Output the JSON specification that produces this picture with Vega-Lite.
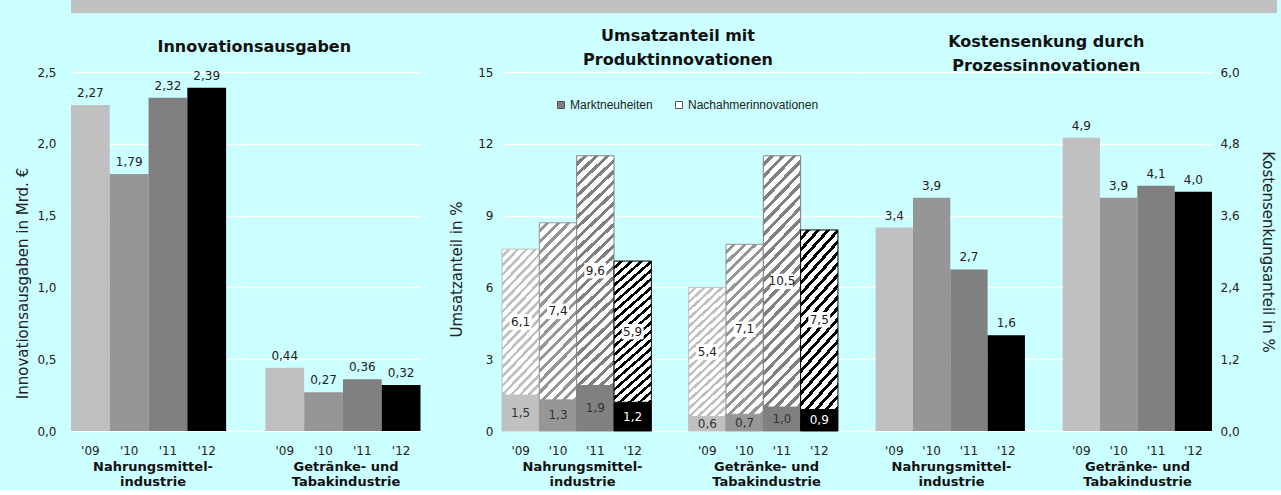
{
  "$schema": "https://vega.github.io/schema/vega-lite/v6.json",
  "background": "#ccffff",
  "padding": {"left": 15, "right": 4, "top": 0, "bottom": 2},
  "datasets": {
    "innov": [
      {"group": "N", "year": "'09", "value": 2.27},
      {"group": "N", "year": "'10", "value": 1.79},
      {"group": "N", "year": "'11", "value": 2.32},
      {"group": "N", "year": "'12", "value": 2.39},
      {"group": "G", "year": "'09", "value": 0.44},
      {"group": "G", "year": "'10", "value": 0.27},
      {"group": "G", "year": "'11", "value": 0.36},
      {"group": "G", "year": "'12", "value": 0.32}
    ],
    "umsatz": [
      {"group": "N", "year": "'09", "series": "Marktneuheiten", "value": 1.5},
      {"group": "N", "year": "'09", "series": "Nachahmerinnovationen", "value": 6.1},
      {"group": "N", "year": "'10", "series": "Marktneuheiten", "value": 1.3},
      {"group": "N", "year": "'10", "series": "Nachahmerinnovationen", "value": 7.4},
      {"group": "N", "year": "'11", "series": "Marktneuheiten", "value": 1.9},
      {"group": "N", "year": "'11", "series": "Nachahmerinnovationen", "value": 9.6},
      {"group": "N", "year": "'12", "series": "Marktneuheiten", "value": 1.2},
      {"group": "N", "year": "'12", "series": "Nachahmerinnovationen", "value": 5.9},
      {"group": "G", "year": "'09", "series": "Marktneuheiten", "value": 0.6},
      {"group": "G", "year": "'09", "series": "Nachahmerinnovationen", "value": 5.4},
      {"group": "G", "year": "'10", "series": "Marktneuheiten", "value": 0.7},
      {"group": "G", "year": "'10", "series": "Nachahmerinnovationen", "value": 7.1},
      {"group": "G", "year": "'11", "series": "Marktneuheiten", "value": 1.0},
      {"group": "G", "year": "'11", "series": "Nachahmerinnovationen", "value": 10.5},
      {"group": "G", "year": "'12", "series": "Marktneuheiten", "value": 0.9},
      {"group": "G", "year": "'12", "series": "Nachahmerinnovationen", "value": 7.5}
    ],
    "kosten": [
      {"group": "N", "year": "'09", "value": 3.4},
      {"group": "N", "year": "'10", "value": 3.9},
      {"group": "N", "year": "'11", "value": 2.7},
      {"group": "N", "year": "'12", "value": 1.6},
      {"group": "G", "year": "'09", "value": 4.9},
      {"group": "G", "year": "'10", "value": 3.9},
      {"group": "G", "year": "'11", "value": 4.1},
      {"group": "G", "year": "'12", "value": 4.0}
    ]
  },
  "spacing": 15,
  "resolve": {"legend": {"color": "independent"}},
  "vconcat": [
    {
      "width": 1206, "height": 13,
      "view": {"fill": "#c0c0c0", "stroke": null},
      "data": {"name": "innov"},
      "mark": "text",
      "encoding": {"text": {"value": ""}}
    },
    {
      "spacing": 0,
      "bounds": "flush",
      "resolve": {"legend": {"color": "independent"}},
      "hconcat": [
        {
          "width": 174.5, "height": 359,
          "title": {"text": "Innovationsausgaben", "dx": 96, "offset": 11},
          "data": {"name": "innov"},
          "transform": [{"filter": "datum.group === 'N'"}],
          "encoding": {
            "x": {"field": "year", "type": "nominal", "scale": {"domain": ["'09", "'10", "'11", "'12"], "paddingInner": 0, "paddingOuter": 0.25, "align": 0}, "axis": {"title": ["Nahrungsmittel-", "industrie"], "titleX": 81.5}},
            "y": {"field": "value", "type": "quantitative", "scale": {"domain": [0, 2.5], "nice": false}, "axis": {"values": [0, 0.5, 1, 1.5, 2, 2.5], "format": ".1f", "title": "Innovationsausgaben in Mrd. €", "labelPadding": 15, "titlePadding": 6, "titleY": 211}}
          },
          "layer": [
            {"mark": {"type": "bar"}, "encoding": {"fill": {"field": "year", "type": "nominal", "scale": {"domain": ["'09", "'10", "'11", "'12"], "range": ["#c0c0c0", "#969696", "#808080", "#000000"]}, "legend": null}}},
            {"mark": {"type": "text", "baseline": "alphabetic", "dy": -8, "fontSize": 12, "color": "#222222"}, "encoding": {"text": {"field": "value", "type": "quantitative", "format": ".2f"}}}
          ]
        },
        {
          "width": 174.5, "height": 359,
          "data": {"name": "innov"},
          "transform": [{"filter": "datum.group === 'G'"}],
          "encoding": {
            "x": {"field": "year", "type": "nominal", "scale": {"domain": ["'09", "'10", "'11", "'12"], "paddingInner": 0, "paddingOuter": 0.25, "align": 1}, "axis": {"title": ["Getränke- und", "Tabakindustrie"], "titleX": 99.5}},
            "y": {"field": "value", "type": "quantitative", "scale": {"domain": [0, 2.5], "nice": false}, "axis": {"values": [0, 0.5, 1, 1.5, 2, 2.5], "labels": false, "title": null}}
          },
          "layer": [
            {"mark": {"type": "bar"}, "encoding": {"fill": {"field": "year", "type": "nominal", "scale": {"domain": ["'09", "'10", "'11", "'12"], "range": ["#c0c0c0", "#969696", "#808080", "#000000"]}, "legend": null}}},
            {"mark": {"type": "text", "baseline": "alphabetic", "dy": -8, "fontSize": 12, "color": "#222222"}, "encoding": {"text": {"field": "value", "type": "quantitative", "format": ".2f"}}}
          ]
        },
        {
          "width": 81, "height": 359,
          "data": {"name": "innov"},
          "mark": "text",
          "encoding": {"text": {"value": ""}}
        },
        {
          "width": 168, "height": 359,
          "title": {"text": ["Umsatzanteil mit", "Produktinnovationen"], "dx": 92, "offset": -2, "lineHeight": 24},
          "data": {"name": "umsatz"},
          "transform": [
            {"filter": "datum.group === 'N'"},
            {"stack": "value", "groupby": ["year"], "sort": [{"field": "series", "order": "ascending"}], "as": ["v0", "v1"]},
            {"calculate": "(datum.v0 + datum.v1) / 2", "as": "mid"}
          ],
          "encoding": {
            "x": {"field": "year", "type": "nominal", "scale": {"domain": ["'09", "'10", "'11", "'12"], "paddingInner": 0, "paddingOuter": 0.25, "align": 0}, "axis": {"title": ["Nahrungsmittel-", "industrie"], "titleX": 80}}
          },
          "layer": [
            {
              "mark": {"type": "bar", "strokeWidth": 1},
              "encoding": {
                "y": {"field": "v1", "type": "quantitative", "scale": {"domain": [0, 15], "nice": false}, "axis": {"values": [0, 3, 6, 9, 12, 15], "format": "d", "title": "Umsatzanteil in %", "labelPadding": 9, "titlePadding": 13, "titleY": 197}},
                "y2": {"field": "v0"},
                "stroke": {"field": "year", "type": "nominal", "scale": {"domain": ["'09", "'10", "'11", "'12"], "range": ["#c0c0c0", "#969696", "#808080", "#000000"]}, "legend": null},
                "fill": {
                  "field": "year", "type": "nominal",
                  "scale": {"domain": ["'09", "'10", "'11", "'12"], "range": ["#c0c0c0", "#969696", "#808080", "#000000"]},
                  "legend": null,
                  "condition": [
                    {"test": "datum.series === 'Nachahmerinnovationen' && datum.year === \"'09\"", "value": {"gradient": "linear", "x1": 0, "y1": 0, "x2": 0.317, "y2": 1.183, "stops": [
                      {"offset": 0, "color": "#fff"}, {"offset": 0.03, "color": "#fff"}, {"offset": 0.03, "color": "#c0c0c0"}, {"offset": 0.05, "color": "#c0c0c0"},
                      {"offset": 0.05, "color": "#fff"}, {"offset": 0.08, "color": "#fff"}, {"offset": 0.08, "color": "#c0c0c0"}, {"offset": 0.1, "color": "#c0c0c0"},
                      {"offset": 0.1, "color": "#fff"}, {"offset": 0.13, "color": "#fff"}, {"offset": 0.13, "color": "#c0c0c0"}, {"offset": 0.15, "color": "#c0c0c0"},
                      {"offset": 0.15, "color": "#fff"}, {"offset": 0.18, "color": "#fff"}, {"offset": 0.18, "color": "#c0c0c0"}, {"offset": 0.2, "color": "#c0c0c0"},
                      {"offset": 0.2, "color": "#fff"}, {"offset": 0.23, "color": "#fff"}, {"offset": 0.23, "color": "#c0c0c0"}, {"offset": 0.25, "color": "#c0c0c0"},
                      {"offset": 0.25, "color": "#fff"}, {"offset": 0.28, "color": "#fff"}, {"offset": 0.28, "color": "#c0c0c0"}, {"offset": 0.3, "color": "#c0c0c0"},
                      {"offset": 0.3, "color": "#fff"}, {"offset": 0.33, "color": "#fff"}, {"offset": 0.33, "color": "#c0c0c0"}, {"offset": 0.35, "color": "#c0c0c0"},
                      {"offset": 0.35, "color": "#fff"}, {"offset": 0.38, "color": "#fff"}, {"offset": 0.38, "color": "#c0c0c0"}, {"offset": 0.4, "color": "#c0c0c0"},
                      {"offset": 0.4, "color": "#fff"}, {"offset": 0.43, "color": "#fff"}, {"offset": 0.43, "color": "#c0c0c0"}, {"offset": 0.45, "color": "#c0c0c0"},
                      {"offset": 0.45, "color": "#fff"}, {"offset": 0.48, "color": "#fff"}, {"offset": 0.48, "color": "#c0c0c0"}, {"offset": 0.5, "color": "#c0c0c0"},
                      {"offset": 0.5, "color": "#fff"}, {"offset": 0.53, "color": "#fff"}, {"offset": 0.53, "color": "#c0c0c0"}, {"offset": 0.55, "color": "#c0c0c0"},
                      {"offset": 0.55, "color": "#fff"}, {"offset": 0.58, "color": "#fff"}, {"offset": 0.58, "color": "#c0c0c0"}, {"offset": 0.6, "color": "#c0c0c0"},
                      {"offset": 0.6, "color": "#fff"}, {"offset": 0.63, "color": "#fff"}, {"offset": 0.63, "color": "#c0c0c0"}, {"offset": 0.65, "color": "#c0c0c0"},
                      {"offset": 0.65, "color": "#fff"}, {"offset": 0.68, "color": "#fff"}, {"offset": 0.68, "color": "#c0c0c0"}, {"offset": 0.7, "color": "#c0c0c0"},
                      {"offset": 0.7, "color": "#fff"}, {"offset": 0.73, "color": "#fff"}, {"offset": 0.73, "color": "#c0c0c0"}, {"offset": 0.75, "color": "#c0c0c0"},
                      {"offset": 0.75, "color": "#fff"}, {"offset": 0.78, "color": "#fff"}, {"offset": 0.78, "color": "#c0c0c0"}, {"offset": 0.8, "color": "#c0c0c0"},
                      {"offset": 0.8, "color": "#fff"}, {"offset": 0.83, "color": "#fff"}, {"offset": 0.83, "color": "#c0c0c0"}, {"offset": 0.85, "color": "#c0c0c0"},
                      {"offset": 0.85, "color": "#fff"}, {"offset": 0.88, "color": "#fff"}, {"offset": 0.88, "color": "#c0c0c0"}, {"offset": 0.9, "color": "#c0c0c0"},
                      {"offset": 0.9, "color": "#fff"}, {"offset": 0.93, "color": "#fff"}, {"offset": 0.93, "color": "#c0c0c0"}, {"offset": 0.95, "color": "#c0c0c0"},
                      {"offset": 0.95, "color": "#fff"}, {"offset": 0.98, "color": "#fff"}, {"offset": 0.98, "color": "#c0c0c0"}, {"offset": 1, "color": "#c0c0c0"}
                    ]}},
                    {"test": "datum.series === 'Nachahmerinnovationen' && datum.year === \"'10\"", "value": {"gradient": "linear", "x1": 0, "y1": 0, "x2": 0.248, "y2": 1.161, "stops": [
                      {"offset": 0, "color": "#fff"}, {"offset": 0.03, "color": "#fff"}, {"offset": 0.03, "color": "#969696"}, {"offset": 0.05, "color": "#969696"},
                      {"offset": 0.05, "color": "#fff"}, {"offset": 0.08, "color": "#fff"}, {"offset": 0.08, "color": "#969696"}, {"offset": 0.1, "color": "#969696"},
                      {"offset": 0.1, "color": "#fff"}, {"offset": 0.13, "color": "#fff"}, {"offset": 0.13, "color": "#969696"}, {"offset": 0.15, "color": "#969696"},
                      {"offset": 0.15, "color": "#fff"}, {"offset": 0.18, "color": "#fff"}, {"offset": 0.18, "color": "#969696"}, {"offset": 0.2, "color": "#969696"},
                      {"offset": 0.2, "color": "#fff"}, {"offset": 0.23, "color": "#fff"}, {"offset": 0.23, "color": "#969696"}, {"offset": 0.25, "color": "#969696"},
                      {"offset": 0.25, "color": "#fff"}, {"offset": 0.28, "color": "#fff"}, {"offset": 0.28, "color": "#969696"}, {"offset": 0.3, "color": "#969696"},
                      {"offset": 0.3, "color": "#fff"}, {"offset": 0.33, "color": "#fff"}, {"offset": 0.33, "color": "#969696"}, {"offset": 0.35, "color": "#969696"},
                      {"offset": 0.35, "color": "#fff"}, {"offset": 0.38, "color": "#fff"}, {"offset": 0.38, "color": "#969696"}, {"offset": 0.4, "color": "#969696"},
                      {"offset": 0.4, "color": "#fff"}, {"offset": 0.43, "color": "#fff"}, {"offset": 0.43, "color": "#969696"}, {"offset": 0.45, "color": "#969696"},
                      {"offset": 0.45, "color": "#fff"}, {"offset": 0.48, "color": "#fff"}, {"offset": 0.48, "color": "#969696"}, {"offset": 0.5, "color": "#969696"},
                      {"offset": 0.5, "color": "#fff"}, {"offset": 0.53, "color": "#fff"}, {"offset": 0.53, "color": "#969696"}, {"offset": 0.55, "color": "#969696"},
                      {"offset": 0.55, "color": "#fff"}, {"offset": 0.58, "color": "#fff"}, {"offset": 0.58, "color": "#969696"}, {"offset": 0.6, "color": "#969696"},
                      {"offset": 0.6, "color": "#fff"}, {"offset": 0.63, "color": "#fff"}, {"offset": 0.63, "color": "#969696"}, {"offset": 0.65, "color": "#969696"},
                      {"offset": 0.65, "color": "#fff"}, {"offset": 0.68, "color": "#fff"}, {"offset": 0.68, "color": "#969696"}, {"offset": 0.7, "color": "#969696"},
                      {"offset": 0.7, "color": "#fff"}, {"offset": 0.73, "color": "#fff"}, {"offset": 0.73, "color": "#969696"}, {"offset": 0.75, "color": "#969696"},
                      {"offset": 0.75, "color": "#fff"}, {"offset": 0.78, "color": "#fff"}, {"offset": 0.78, "color": "#969696"}, {"offset": 0.8, "color": "#969696"},
                      {"offset": 0.8, "color": "#fff"}, {"offset": 0.83, "color": "#fff"}, {"offset": 0.83, "color": "#969696"}, {"offset": 0.85, "color": "#969696"},
                      {"offset": 0.85, "color": "#fff"}, {"offset": 0.88, "color": "#fff"}, {"offset": 0.88, "color": "#969696"}, {"offset": 0.9, "color": "#969696"},
                      {"offset": 0.9, "color": "#fff"}, {"offset": 0.93, "color": "#fff"}, {"offset": 0.93, "color": "#969696"}, {"offset": 0.95, "color": "#969696"},
                      {"offset": 0.95, "color": "#fff"}, {"offset": 0.98, "color": "#fff"}, {"offset": 0.98, "color": "#969696"}, {"offset": 1, "color": "#969696"}
                    ]}},
                    {"test": "datum.series === 'Nachahmerinnovationen' && datum.year === \"'11\"", "value": {"gradient": "linear", "x1": 0, "y1": 0, "x2": 0.174, "y2": 1.127, "stops": [
                      {"offset": 0, "color": "#fff"}, {"offset": 0.024, "color": "#fff"}, {"offset": 0.024, "color": "#808080"}, {"offset": 0.04, "color": "#808080"},
                      {"offset": 0.04, "color": "#fff"}, {"offset": 0.064, "color": "#fff"}, {"offset": 0.064, "color": "#808080"}, {"offset": 0.08, "color": "#808080"},
                      {"offset": 0.08, "color": "#fff"}, {"offset": 0.104, "color": "#fff"}, {"offset": 0.104, "color": "#808080"}, {"offset": 0.12, "color": "#808080"},
                      {"offset": 0.12, "color": "#fff"}, {"offset": 0.144, "color": "#fff"}, {"offset": 0.144, "color": "#808080"}, {"offset": 0.16, "color": "#808080"},
                      {"offset": 0.16, "color": "#fff"}, {"offset": 0.184, "color": "#fff"}, {"offset": 0.184, "color": "#808080"}, {"offset": 0.2, "color": "#808080"},
                      {"offset": 0.2, "color": "#fff"}, {"offset": 0.224, "color": "#fff"}, {"offset": 0.224, "color": "#808080"}, {"offset": 0.24, "color": "#808080"},
                      {"offset": 0.24, "color": "#fff"}, {"offset": 0.264, "color": "#fff"}, {"offset": 0.264, "color": "#808080"}, {"offset": 0.28, "color": "#808080"},
                      {"offset": 0.28, "color": "#fff"}, {"offset": 0.304, "color": "#fff"}, {"offset": 0.304, "color": "#808080"}, {"offset": 0.32, "color": "#808080"},
                      {"offset": 0.32, "color": "#fff"}, {"offset": 0.344, "color": "#fff"}, {"offset": 0.344, "color": "#808080"}, {"offset": 0.36, "color": "#808080"},
                      {"offset": 0.36, "color": "#fff"}, {"offset": 0.384, "color": "#fff"}, {"offset": 0.384, "color": "#808080"}, {"offset": 0.4, "color": "#808080"},
                      {"offset": 0.4, "color": "#fff"}, {"offset": 0.424, "color": "#fff"}, {"offset": 0.424, "color": "#808080"}, {"offset": 0.44, "color": "#808080"},
                      {"offset": 0.44, "color": "#fff"}, {"offset": 0.464, "color": "#fff"}, {"offset": 0.464, "color": "#808080"}, {"offset": 0.48, "color": "#808080"},
                      {"offset": 0.48, "color": "#fff"}, {"offset": 0.504, "color": "#fff"}, {"offset": 0.504, "color": "#808080"}, {"offset": 0.52, "color": "#808080"},
                      {"offset": 0.52, "color": "#fff"}, {"offset": 0.544, "color": "#fff"}, {"offset": 0.544, "color": "#808080"}, {"offset": 0.56, "color": "#808080"},
                      {"offset": 0.56, "color": "#fff"}, {"offset": 0.584, "color": "#fff"}, {"offset": 0.584, "color": "#808080"}, {"offset": 0.6, "color": "#808080"},
                      {"offset": 0.6, "color": "#fff"}, {"offset": 0.624, "color": "#fff"}, {"offset": 0.624, "color": "#808080"}, {"offset": 0.64, "color": "#808080"},
                      {"offset": 0.64, "color": "#fff"}, {"offset": 0.664, "color": "#fff"}, {"offset": 0.664, "color": "#808080"}, {"offset": 0.68, "color": "#808080"},
                      {"offset": 0.68, "color": "#fff"}, {"offset": 0.704, "color": "#fff"}, {"offset": 0.704, "color": "#808080"}, {"offset": 0.72, "color": "#808080"},
                      {"offset": 0.72, "color": "#fff"}, {"offset": 0.744, "color": "#fff"}, {"offset": 0.744, "color": "#808080"}, {"offset": 0.76, "color": "#808080"},
                      {"offset": 0.76, "color": "#fff"}, {"offset": 0.784, "color": "#fff"}, {"offset": 0.784, "color": "#808080"}, {"offset": 0.8, "color": "#808080"},
                      {"offset": 0.8, "color": "#fff"}, {"offset": 0.824, "color": "#fff"}, {"offset": 0.824, "color": "#808080"}, {"offset": 0.84, "color": "#808080"},
                      {"offset": 0.84, "color": "#fff"}, {"offset": 0.864, "color": "#fff"}, {"offset": 0.864, "color": "#808080"}, {"offset": 0.88, "color": "#808080"},
                      {"offset": 0.88, "color": "#fff"}, {"offset": 0.904, "color": "#fff"}, {"offset": 0.904, "color": "#808080"}, {"offset": 0.92, "color": "#808080"},
                      {"offset": 0.92, "color": "#fff"}, {"offset": 0.944, "color": "#fff"}, {"offset": 0.944, "color": "#808080"}, {"offset": 0.96, "color": "#808080"},
                      {"offset": 0.96, "color": "#fff"}, {"offset": 0.984, "color": "#fff"}, {"offset": 0.984, "color": "#808080"}, {"offset": 1, "color": "#808080"}
                    ]}},
                    {"test": "datum.series === 'Nachahmerinnovationen' && datum.year === \"'12\"", "value": {"gradient": "linear", "x1": 0, "y1": 0, "x2": 0.27, "y2": 1.169, "stops": [
                      {"offset": 0, "color": "#fff"}, {"offset": 0.03, "color": "#fff"}, {"offset": 0.03, "color": "#000"}, {"offset": 0.05, "color": "#000"},
                      {"offset": 0.05, "color": "#fff"}, {"offset": 0.08, "color": "#fff"}, {"offset": 0.08, "color": "#000"}, {"offset": 0.1, "color": "#000"},
                      {"offset": 0.1, "color": "#fff"}, {"offset": 0.13, "color": "#fff"}, {"offset": 0.13, "color": "#000"}, {"offset": 0.15, "color": "#000"},
                      {"offset": 0.15, "color": "#fff"}, {"offset": 0.18, "color": "#fff"}, {"offset": 0.18, "color": "#000"}, {"offset": 0.2, "color": "#000"},
                      {"offset": 0.2, "color": "#fff"}, {"offset": 0.23, "color": "#fff"}, {"offset": 0.23, "color": "#000"}, {"offset": 0.25, "color": "#000"},
                      {"offset": 0.25, "color": "#fff"}, {"offset": 0.28, "color": "#fff"}, {"offset": 0.28, "color": "#000"}, {"offset": 0.3, "color": "#000"},
                      {"offset": 0.3, "color": "#fff"}, {"offset": 0.33, "color": "#fff"}, {"offset": 0.33, "color": "#000"}, {"offset": 0.35, "color": "#000"},
                      {"offset": 0.35, "color": "#fff"}, {"offset": 0.38, "color": "#fff"}, {"offset": 0.38, "color": "#000"}, {"offset": 0.4, "color": "#000"},
                      {"offset": 0.4, "color": "#fff"}, {"offset": 0.43, "color": "#fff"}, {"offset": 0.43, "color": "#000"}, {"offset": 0.45, "color": "#000"},
                      {"offset": 0.45, "color": "#fff"}, {"offset": 0.48, "color": "#fff"}, {"offset": 0.48, "color": "#000"}, {"offset": 0.5, "color": "#000"},
                      {"offset": 0.5, "color": "#fff"}, {"offset": 0.53, "color": "#fff"}, {"offset": 0.53, "color": "#000"}, {"offset": 0.55, "color": "#000"},
                      {"offset": 0.55, "color": "#fff"}, {"offset": 0.58, "color": "#fff"}, {"offset": 0.58, "color": "#000"}, {"offset": 0.6, "color": "#000"},
                      {"offset": 0.6, "color": "#fff"}, {"offset": 0.63, "color": "#fff"}, {"offset": 0.63, "color": "#000"}, {"offset": 0.65, "color": "#000"},
                      {"offset": 0.65, "color": "#fff"}, {"offset": 0.68, "color": "#fff"}, {"offset": 0.68, "color": "#000"}, {"offset": 0.7, "color": "#000"},
                      {"offset": 0.7, "color": "#fff"}, {"offset": 0.73, "color": "#fff"}, {"offset": 0.73, "color": "#000"}, {"offset": 0.75, "color": "#000"},
                      {"offset": 0.75, "color": "#fff"}, {"offset": 0.78, "color": "#fff"}, {"offset": 0.78, "color": "#000"}, {"offset": 0.8, "color": "#000"},
                      {"offset": 0.8, "color": "#fff"}, {"offset": 0.83, "color": "#fff"}, {"offset": 0.83, "color": "#000"}, {"offset": 0.85, "color": "#000"},
                      {"offset": 0.85, "color": "#fff"}, {"offset": 0.88, "color": "#fff"}, {"offset": 0.88, "color": "#000"}, {"offset": 0.9, "color": "#000"},
                      {"offset": 0.9, "color": "#fff"}, {"offset": 0.93, "color": "#fff"}, {"offset": 0.93, "color": "#000"}, {"offset": 0.95, "color": "#000"},
                      {"offset": 0.95, "color": "#fff"}, {"offset": 0.98, "color": "#fff"}, {"offset": 0.98, "color": "#000"}, {"offset": 1, "color": "#000"}
                    ]}}
                  ]
                }
              }
            },
            {
              "mark": {"type": "point", "filled": true, "opacity": 0},
              "encoding": {
                "y": {"field": "v1", "type": "quantitative"},
                "color": {"field": "series", "type": "nominal", "scale": {"domain": ["Marktneuheiten", "Nachahmerinnovationen"], "range": ["#808080", "#ffffff"]},
                  "legend": {"orient": "none", "legendX": 53, "legendY": 27, "direction": "horizontal", "title": null, "symbolType": "square", "symbolSize": 49, "labelFont": "Liberation Sans", "labelFontSize": 12, "labelColor": "#222222", "labelOffset": 3, "columnPadding": 20,
                    "encode": {"symbols": {"update": {"stroke": {"value": "#555555"}, "strokeWidth": {"value": 1}, "opacity": {"value": 1}}}}}}
              }
            },
            {
              "transform": [{"filter": "datum.series === 'Nachahmerinnovationen'"}],
              "mark": {"type": "point", "shape": "M-1,-0.7L1,-0.7L1,0.7L-1,0.7Z", "filled": true, "color": "#ffffff", "opacity": 1, "size": 484, "strokeWidth": 0},
              "encoding": {"y": {"field": "mid", "type": "quantitative"}}
            },
            {
              "transform": [{"filter": "datum.series === 'Nachahmerinnovationen'"}],
              "mark": {"type": "text", "fontSize": 12, "color": "#222222"},
              "encoding": {"y": {"field": "mid", "type": "quantitative"}, "text": {"field": "value", "type": "quantitative", "format": ".1f"}}
            },
            {
              "transform": [{"filter": "datum.series === 'Marktneuheiten'"}],
              "mark": {"type": "text", "fontSize": 12},
              "encoding": {
                "y": {"field": "mid", "type": "quantitative"},
                "text": {"field": "value", "type": "quantitative", "format": ".1f"},
                "color": {"condition": {"test": "datum.year === \"'12\"", "value": "#ffffff"}, "value": "#333333"}
              }
            }
          ]
        },
        {
          "width": 186.6, "height": 359,
          "data": {"name": "umsatz"},
          "transform": [
            {"filter": "datum.group === 'G'"},
            {"stack": "value", "groupby": ["year"], "sort": [{"field": "series", "order": "ascending"}], "as": ["v0", "v1"]},
            {"calculate": "(datum.v0 + datum.v1) / 2", "as": "mid"}
          ],
          "encoding": {
            "x": {"field": "year", "type": "nominal", "scale": {"domain": ["'09", "'10", "'11", "'12"], "paddingInner": 0, "paddingOuter": 0.5, "align": 0.5}, "axis": {"title": ["Getränke- und", "Tabakindustrie"], "titleX": 96}}
          },
          "layer": [
            {
              "mark": {"type": "bar", "strokeWidth": 1},
              "encoding": {
                "y": {"field": "v1", "type": "quantitative", "scale": {"domain": [0, 15], "nice": false}, "axis": {"values": [0, 3, 6, 9, 12, 15], "labels": false, "title": null}},
                "y2": {"field": "v0"},
                "stroke": {"field": "year", "type": "nominal", "scale": {"domain": ["'09", "'10", "'11", "'12"], "range": ["#c0c0c0", "#969696", "#808080", "#000000"]}, "legend": null},
                "fill": {
                  "field": "year", "type": "nominal",
                  "scale": {"domain": ["'09", "'10", "'11", "'12"], "range": ["#c0c0c0", "#969696", "#808080", "#000000"]},
                  "legend": null,
                  "condition": [
                    {"test": "datum.series === 'Nachahmerinnovationen' && datum.year === \"'09\"", "value": {"gradient": "linear", "x1": 0, "y1": 0, "x2": 0.317, "y2": 1.183, "stops": [
                      {"offset": 0, "color": "#fff"}, {"offset": 0.03, "color": "#fff"}, {"offset": 0.03, "color": "#c0c0c0"}, {"offset": 0.05, "color": "#c0c0c0"},
                      {"offset": 0.05, "color": "#fff"}, {"offset": 0.08, "color": "#fff"}, {"offset": 0.08, "color": "#c0c0c0"}, {"offset": 0.1, "color": "#c0c0c0"},
                      {"offset": 0.1, "color": "#fff"}, {"offset": 0.13, "color": "#fff"}, {"offset": 0.13, "color": "#c0c0c0"}, {"offset": 0.15, "color": "#c0c0c0"},
                      {"offset": 0.15, "color": "#fff"}, {"offset": 0.18, "color": "#fff"}, {"offset": 0.18, "color": "#c0c0c0"}, {"offset": 0.2, "color": "#c0c0c0"},
                      {"offset": 0.2, "color": "#fff"}, {"offset": 0.23, "color": "#fff"}, {"offset": 0.23, "color": "#c0c0c0"}, {"offset": 0.25, "color": "#c0c0c0"},
                      {"offset": 0.25, "color": "#fff"}, {"offset": 0.28, "color": "#fff"}, {"offset": 0.28, "color": "#c0c0c0"}, {"offset": 0.3, "color": "#c0c0c0"},
                      {"offset": 0.3, "color": "#fff"}, {"offset": 0.33, "color": "#fff"}, {"offset": 0.33, "color": "#c0c0c0"}, {"offset": 0.35, "color": "#c0c0c0"},
                      {"offset": 0.35, "color": "#fff"}, {"offset": 0.38, "color": "#fff"}, {"offset": 0.38, "color": "#c0c0c0"}, {"offset": 0.4, "color": "#c0c0c0"},
                      {"offset": 0.4, "color": "#fff"}, {"offset": 0.43, "color": "#fff"}, {"offset": 0.43, "color": "#c0c0c0"}, {"offset": 0.45, "color": "#c0c0c0"},
                      {"offset": 0.45, "color": "#fff"}, {"offset": 0.48, "color": "#fff"}, {"offset": 0.48, "color": "#c0c0c0"}, {"offset": 0.5, "color": "#c0c0c0"},
                      {"offset": 0.5, "color": "#fff"}, {"offset": 0.53, "color": "#fff"}, {"offset": 0.53, "color": "#c0c0c0"}, {"offset": 0.55, "color": "#c0c0c0"},
                      {"offset": 0.55, "color": "#fff"}, {"offset": 0.58, "color": "#fff"}, {"offset": 0.58, "color": "#c0c0c0"}, {"offset": 0.6, "color": "#c0c0c0"},
                      {"offset": 0.6, "color": "#fff"}, {"offset": 0.63, "color": "#fff"}, {"offset": 0.63, "color": "#c0c0c0"}, {"offset": 0.65, "color": "#c0c0c0"},
                      {"offset": 0.65, "color": "#fff"}, {"offset": 0.68, "color": "#fff"}, {"offset": 0.68, "color": "#c0c0c0"}, {"offset": 0.7, "color": "#c0c0c0"},
                      {"offset": 0.7, "color": "#fff"}, {"offset": 0.73, "color": "#fff"}, {"offset": 0.73, "color": "#c0c0c0"}, {"offset": 0.75, "color": "#c0c0c0"},
                      {"offset": 0.75, "color": "#fff"}, {"offset": 0.78, "color": "#fff"}, {"offset": 0.78, "color": "#c0c0c0"}, {"offset": 0.8, "color": "#c0c0c0"},
                      {"offset": 0.8, "color": "#fff"}, {"offset": 0.83, "color": "#fff"}, {"offset": 0.83, "color": "#c0c0c0"}, {"offset": 0.85, "color": "#c0c0c0"},
                      {"offset": 0.85, "color": "#fff"}, {"offset": 0.88, "color": "#fff"}, {"offset": 0.88, "color": "#c0c0c0"}, {"offset": 0.9, "color": "#c0c0c0"},
                      {"offset": 0.9, "color": "#fff"}, {"offset": 0.93, "color": "#fff"}, {"offset": 0.93, "color": "#c0c0c0"}, {"offset": 0.95, "color": "#c0c0c0"},
                      {"offset": 0.95, "color": "#fff"}, {"offset": 0.98, "color": "#fff"}, {"offset": 0.98, "color": "#c0c0c0"}, {"offset": 1, "color": "#c0c0c0"}
                    ]}},
                    {"test": "datum.series === 'Nachahmerinnovationen' && datum.year === \"'10\"", "value": {"gradient": "linear", "x1": 0, "y1": 0, "x2": 0.248, "y2": 1.161, "stops": [
                      {"offset": 0, "color": "#fff"}, {"offset": 0.03, "color": "#fff"}, {"offset": 0.03, "color": "#969696"}, {"offset": 0.05, "color": "#969696"},
                      {"offset": 0.05, "color": "#fff"}, {"offset": 0.08, "color": "#fff"}, {"offset": 0.08, "color": "#969696"}, {"offset": 0.1, "color": "#969696"},
                      {"offset": 0.1, "color": "#fff"}, {"offset": 0.13, "color": "#fff"}, {"offset": 0.13, "color": "#969696"}, {"offset": 0.15, "color": "#969696"},
                      {"offset": 0.15, "color": "#fff"}, {"offset": 0.18, "color": "#fff"}, {"offset": 0.18, "color": "#969696"}, {"offset": 0.2, "color": "#969696"},
                      {"offset": 0.2, "color": "#fff"}, {"offset": 0.23, "color": "#fff"}, {"offset": 0.23, "color": "#969696"}, {"offset": 0.25, "color": "#969696"},
                      {"offset": 0.25, "color": "#fff"}, {"offset": 0.28, "color": "#fff"}, {"offset": 0.28, "color": "#969696"}, {"offset": 0.3, "color": "#969696"},
                      {"offset": 0.3, "color": "#fff"}, {"offset": 0.33, "color": "#fff"}, {"offset": 0.33, "color": "#969696"}, {"offset": 0.35, "color": "#969696"},
                      {"offset": 0.35, "color": "#fff"}, {"offset": 0.38, "color": "#fff"}, {"offset": 0.38, "color": "#969696"}, {"offset": 0.4, "color": "#969696"},
                      {"offset": 0.4, "color": "#fff"}, {"offset": 0.43, "color": "#fff"}, {"offset": 0.43, "color": "#969696"}, {"offset": 0.45, "color": "#969696"},
                      {"offset": 0.45, "color": "#fff"}, {"offset": 0.48, "color": "#fff"}, {"offset": 0.48, "color": "#969696"}, {"offset": 0.5, "color": "#969696"},
                      {"offset": 0.5, "color": "#fff"}, {"offset": 0.53, "color": "#fff"}, {"offset": 0.53, "color": "#969696"}, {"offset": 0.55, "color": "#969696"},
                      {"offset": 0.55, "color": "#fff"}, {"offset": 0.58, "color": "#fff"}, {"offset": 0.58, "color": "#969696"}, {"offset": 0.6, "color": "#969696"},
                      {"offset": 0.6, "color": "#fff"}, {"offset": 0.63, "color": "#fff"}, {"offset": 0.63, "color": "#969696"}, {"offset": 0.65, "color": "#969696"},
                      {"offset": 0.65, "color": "#fff"}, {"offset": 0.68, "color": "#fff"}, {"offset": 0.68, "color": "#969696"}, {"offset": 0.7, "color": "#969696"},
                      {"offset": 0.7, "color": "#fff"}, {"offset": 0.73, "color": "#fff"}, {"offset": 0.73, "color": "#969696"}, {"offset": 0.75, "color": "#969696"},
                      {"offset": 0.75, "color": "#fff"}, {"offset": 0.78, "color": "#fff"}, {"offset": 0.78, "color": "#969696"}, {"offset": 0.8, "color": "#969696"},
                      {"offset": 0.8, "color": "#fff"}, {"offset": 0.83, "color": "#fff"}, {"offset": 0.83, "color": "#969696"}, {"offset": 0.85, "color": "#969696"},
                      {"offset": 0.85, "color": "#fff"}, {"offset": 0.88, "color": "#fff"}, {"offset": 0.88, "color": "#969696"}, {"offset": 0.9, "color": "#969696"},
                      {"offset": 0.9, "color": "#fff"}, {"offset": 0.93, "color": "#fff"}, {"offset": 0.93, "color": "#969696"}, {"offset": 0.95, "color": "#969696"},
                      {"offset": 0.95, "color": "#fff"}, {"offset": 0.98, "color": "#fff"}, {"offset": 0.98, "color": "#969696"}, {"offset": 1, "color": "#969696"}
                    ]}},
                    {"test": "datum.series === 'Nachahmerinnovationen' && datum.year === \"'11\"", "value": {"gradient": "linear", "x1": 0, "y1": 0, "x2": 0.174, "y2": 1.127, "stops": [
                      {"offset": 0, "color": "#fff"}, {"offset": 0.024, "color": "#fff"}, {"offset": 0.024, "color": "#808080"}, {"offset": 0.04, "color": "#808080"},
                      {"offset": 0.04, "color": "#fff"}, {"offset": 0.064, "color": "#fff"}, {"offset": 0.064, "color": "#808080"}, {"offset": 0.08, "color": "#808080"},
                      {"offset": 0.08, "color": "#fff"}, {"offset": 0.104, "color": "#fff"}, {"offset": 0.104, "color": "#808080"}, {"offset": 0.12, "color": "#808080"},
                      {"offset": 0.12, "color": "#fff"}, {"offset": 0.144, "color": "#fff"}, {"offset": 0.144, "color": "#808080"}, {"offset": 0.16, "color": "#808080"},
                      {"offset": 0.16, "color": "#fff"}, {"offset": 0.184, "color": "#fff"}, {"offset": 0.184, "color": "#808080"}, {"offset": 0.2, "color": "#808080"},
                      {"offset": 0.2, "color": "#fff"}, {"offset": 0.224, "color": "#fff"}, {"offset": 0.224, "color": "#808080"}, {"offset": 0.24, "color": "#808080"},
                      {"offset": 0.24, "color": "#fff"}, {"offset": 0.264, "color": "#fff"}, {"offset": 0.264, "color": "#808080"}, {"offset": 0.28, "color": "#808080"},
                      {"offset": 0.28, "color": "#fff"}, {"offset": 0.304, "color": "#fff"}, {"offset": 0.304, "color": "#808080"}, {"offset": 0.32, "color": "#808080"},
                      {"offset": 0.32, "color": "#fff"}, {"offset": 0.344, "color": "#fff"}, {"offset": 0.344, "color": "#808080"}, {"offset": 0.36, "color": "#808080"},
                      {"offset": 0.36, "color": "#fff"}, {"offset": 0.384, "color": "#fff"}, {"offset": 0.384, "color": "#808080"}, {"offset": 0.4, "color": "#808080"},
                      {"offset": 0.4, "color": "#fff"}, {"offset": 0.424, "color": "#fff"}, {"offset": 0.424, "color": "#808080"}, {"offset": 0.44, "color": "#808080"},
                      {"offset": 0.44, "color": "#fff"}, {"offset": 0.464, "color": "#fff"}, {"offset": 0.464, "color": "#808080"}, {"offset": 0.48, "color": "#808080"},
                      {"offset": 0.48, "color": "#fff"}, {"offset": 0.504, "color": "#fff"}, {"offset": 0.504, "color": "#808080"}, {"offset": 0.52, "color": "#808080"},
                      {"offset": 0.52, "color": "#fff"}, {"offset": 0.544, "color": "#fff"}, {"offset": 0.544, "color": "#808080"}, {"offset": 0.56, "color": "#808080"},
                      {"offset": 0.56, "color": "#fff"}, {"offset": 0.584, "color": "#fff"}, {"offset": 0.584, "color": "#808080"}, {"offset": 0.6, "color": "#808080"},
                      {"offset": 0.6, "color": "#fff"}, {"offset": 0.624, "color": "#fff"}, {"offset": 0.624, "color": "#808080"}, {"offset": 0.64, "color": "#808080"},
                      {"offset": 0.64, "color": "#fff"}, {"offset": 0.664, "color": "#fff"}, {"offset": 0.664, "color": "#808080"}, {"offset": 0.68, "color": "#808080"},
                      {"offset": 0.68, "color": "#fff"}, {"offset": 0.704, "color": "#fff"}, {"offset": 0.704, "color": "#808080"}, {"offset": 0.72, "color": "#808080"},
                      {"offset": 0.72, "color": "#fff"}, {"offset": 0.744, "color": "#fff"}, {"offset": 0.744, "color": "#808080"}, {"offset": 0.76, "color": "#808080"},
                      {"offset": 0.76, "color": "#fff"}, {"offset": 0.784, "color": "#fff"}, {"offset": 0.784, "color": "#808080"}, {"offset": 0.8, "color": "#808080"},
                      {"offset": 0.8, "color": "#fff"}, {"offset": 0.824, "color": "#fff"}, {"offset": 0.824, "color": "#808080"}, {"offset": 0.84, "color": "#808080"},
                      {"offset": 0.84, "color": "#fff"}, {"offset": 0.864, "color": "#fff"}, {"offset": 0.864, "color": "#808080"}, {"offset": 0.88, "color": "#808080"},
                      {"offset": 0.88, "color": "#fff"}, {"offset": 0.904, "color": "#fff"}, {"offset": 0.904, "color": "#808080"}, {"offset": 0.92, "color": "#808080"},
                      {"offset": 0.92, "color": "#fff"}, {"offset": 0.944, "color": "#fff"}, {"offset": 0.944, "color": "#808080"}, {"offset": 0.96, "color": "#808080"},
                      {"offset": 0.96, "color": "#fff"}, {"offset": 0.984, "color": "#fff"}, {"offset": 0.984, "color": "#808080"}, {"offset": 1, "color": "#808080"}
                    ]}},
                    {"test": "datum.series === 'Nachahmerinnovationen' && datum.year === \"'12\"", "value": {"gradient": "linear", "x1": 0, "y1": 0, "x2": 0.27, "y2": 1.169, "stops": [
                      {"offset": 0, "color": "#fff"}, {"offset": 0.03, "color": "#fff"}, {"offset": 0.03, "color": "#000"}, {"offset": 0.05, "color": "#000"},
                      {"offset": 0.05, "color": "#fff"}, {"offset": 0.08, "color": "#fff"}, {"offset": 0.08, "color": "#000"}, {"offset": 0.1, "color": "#000"},
                      {"offset": 0.1, "color": "#fff"}, {"offset": 0.13, "color": "#fff"}, {"offset": 0.13, "color": "#000"}, {"offset": 0.15, "color": "#000"},
                      {"offset": 0.15, "color": "#fff"}, {"offset": 0.18, "color": "#fff"}, {"offset": 0.18, "color": "#000"}, {"offset": 0.2, "color": "#000"},
                      {"offset": 0.2, "color": "#fff"}, {"offset": 0.23, "color": "#fff"}, {"offset": 0.23, "color": "#000"}, {"offset": 0.25, "color": "#000"},
                      {"offset": 0.25, "color": "#fff"}, {"offset": 0.28, "color": "#fff"}, {"offset": 0.28, "color": "#000"}, {"offset": 0.3, "color": "#000"},
                      {"offset": 0.3, "color": "#fff"}, {"offset": 0.33, "color": "#fff"}, {"offset": 0.33, "color": "#000"}, {"offset": 0.35, "color": "#000"},
                      {"offset": 0.35, "color": "#fff"}, {"offset": 0.38, "color": "#fff"}, {"offset": 0.38, "color": "#000"}, {"offset": 0.4, "color": "#000"},
                      {"offset": 0.4, "color": "#fff"}, {"offset": 0.43, "color": "#fff"}, {"offset": 0.43, "color": "#000"}, {"offset": 0.45, "color": "#000"},
                      {"offset": 0.45, "color": "#fff"}, {"offset": 0.48, "color": "#fff"}, {"offset": 0.48, "color": "#000"}, {"offset": 0.5, "color": "#000"},
                      {"offset": 0.5, "color": "#fff"}, {"offset": 0.53, "color": "#fff"}, {"offset": 0.53, "color": "#000"}, {"offset": 0.55, "color": "#000"},
                      {"offset": 0.55, "color": "#fff"}, {"offset": 0.58, "color": "#fff"}, {"offset": 0.58, "color": "#000"}, {"offset": 0.6, "color": "#000"},
                      {"offset": 0.6, "color": "#fff"}, {"offset": 0.63, "color": "#fff"}, {"offset": 0.63, "color": "#000"}, {"offset": 0.65, "color": "#000"},
                      {"offset": 0.65, "color": "#fff"}, {"offset": 0.68, "color": "#fff"}, {"offset": 0.68, "color": "#000"}, {"offset": 0.7, "color": "#000"},
                      {"offset": 0.7, "color": "#fff"}, {"offset": 0.73, "color": "#fff"}, {"offset": 0.73, "color": "#000"}, {"offset": 0.75, "color": "#000"},
                      {"offset": 0.75, "color": "#fff"}, {"offset": 0.78, "color": "#fff"}, {"offset": 0.78, "color": "#000"}, {"offset": 0.8, "color": "#000"},
                      {"offset": 0.8, "color": "#fff"}, {"offset": 0.83, "color": "#fff"}, {"offset": 0.83, "color": "#000"}, {"offset": 0.85, "color": "#000"},
                      {"offset": 0.85, "color": "#fff"}, {"offset": 0.88, "color": "#fff"}, {"offset": 0.88, "color": "#000"}, {"offset": 0.9, "color": "#000"},
                      {"offset": 0.9, "color": "#fff"}, {"offset": 0.93, "color": "#fff"}, {"offset": 0.93, "color": "#000"}, {"offset": 0.95, "color": "#000"},
                      {"offset": 0.95, "color": "#fff"}, {"offset": 0.98, "color": "#fff"}, {"offset": 0.98, "color": "#000"}, {"offset": 1, "color": "#000"}
                    ]}}
                  ]
                }
              }
            },
            {
              "transform": [{"filter": "datum.series === 'Nachahmerinnovationen'"}],
              "mark": {"type": "point", "shape": "M-1,-0.7L1,-0.7L1,0.7L-1,0.7Z", "filled": true, "color": "#ffffff", "opacity": 1, "size": 484, "strokeWidth": 0},
              "encoding": {"y": {"field": "mid", "type": "quantitative"}}
            },
            {
              "transform": [{"filter": "datum.series === 'Nachahmerinnovationen'"}],
              "mark": {"type": "text", "fontSize": 12, "color": "#222222"},
              "encoding": {"y": {"field": "mid", "type": "quantitative"}, "text": {"field": "value", "type": "quantitative", "format": ".1f"}}
            },
            {
              "transform": [{"filter": "datum.series === 'Marktneuheiten'"}],
              "mark": {"type": "text", "fontSize": 12},
              "encoding": {
                "y": {"field": "mid", "type": "quantitative"},
                "text": {"field": "value", "type": "quantitative", "format": ".1f"},
                "color": {"condition": {"test": "datum.year === \"'12\"", "value": "#ffffff"}, "value": "#333333"}
              }
            }
          ]
        },
        {
          "width": 186.6, "height": 359,
          "title": {"text": ["Kostensenkung durch", "Prozessinnovationen"], "dx": 96, "offset": -2, "lineHeight": 24},
          "data": {"name": "kosten"},
          "transform": [{"filter": "datum.group === 'N'"}],
          "encoding": {
            "x": {"field": "year", "type": "nominal", "scale": {"domain": ["'09", "'10", "'11", "'12"], "paddingInner": 0, "paddingOuter": 0.5, "align": 0.5}, "axis": {"title": ["Nahrungsmittel-", "industrie"], "titleX": 94}},
            "y": {"field": "value", "type": "quantitative", "scale": {"domain": [0, 6], "nice": false}, "axis": {"values": [0, 1.2, 2.4, 3.6, 4.8, 6], "labels": false, "title": null}}
          },
          "layer": [
            {"mark": {"type": "bar"}, "encoding": {"fill": {"field": "year", "type": "nominal", "scale": {"domain": ["'09", "'10", "'11", "'12"], "range": ["#c0c0c0", "#969696", "#808080", "#000000"]}, "legend": null}}},
            {"mark": {"type": "text", "baseline": "alphabetic", "dy": -8, "fontSize": 12, "color": "#222222"}, "encoding": {"text": {"field": "value", "type": "quantitative", "format": ".1f"}}}
          ]
        },
        {
          "width": 168, "height": 359,
          "data": {"name": "kosten"},
          "transform": [{"filter": "datum.group === 'G'"}],
          "encoding": {
            "x": {"field": "year", "type": "nominal", "scale": {"domain": ["'09", "'10", "'11", "'12"], "paddingInner": 0, "paddingOuter": 0.25, "align": 1}, "axis": {"title": ["Getränke- und", "Tabakindustrie"], "titleX": 93}},
            "y": {"field": "value", "type": "quantitative", "scale": {"domain": [0, 6], "nice": false}, "axis": {"orient": "right", "values": [0, 1.2, 2.4, 3.6, 4.8, 6], "format": ".1f", "title": "Kostensenkungsanteil in %", "labelPadding": 8, "titlePadding": 20}}
          },
          "layer": [
            {"mark": {"type": "bar"}, "encoding": {"fill": {"field": "year", "type": "nominal", "scale": {"domain": ["'09", "'10", "'11", "'12"], "range": ["#c0c0c0", "#969696", "#808080", "#000000"]}, "legend": null}}},
            {"mark": {"type": "text", "baseline": "alphabetic", "dy": -8, "fontSize": 12, "color": "#222222"}, "encoding": {"text": {"field": "value", "type": "quantitative", "format": ".1f"}}}
          ]
        }
      ]
    }
  ],
  "config": {
    "font": "DejaVu Sans",
    "locale": {"number": {"decimal": ",", "thousands": ".", "grouping": [3], "currency": ["", " €"]}},
    "view": {"stroke": null},
    "axis": {"gridColor": "#ffffff", "gridWidth": 1.5, "gridOpacity": 1, "domain": false, "ticks": false, "labelFontSize": 12, "labelColor": "#222222", "titleColor": "#222222", "labelFont": "DejaVu Sans", "titleFont": "DejaVu Sans"},
    "axisX": {"labelAngle": 0, "grid": false, "labelPadding": 14, "titleFontSize": 13, "titleFontWeight": "bold", "titleColor": "#111111", "titlePadding": 4, "titleLineHeight": 15, "titleAlign": "center"},
    "axisY": {"grid": true, "titleFontSize": 15, "titleFontWeight": "normal"},
    "title": {"fontSize": 16, "fontWeight": "bold", "font": "DejaVu Sans", "color": "#111111", "anchor": "middle", "frame": "group"}
  }
}
